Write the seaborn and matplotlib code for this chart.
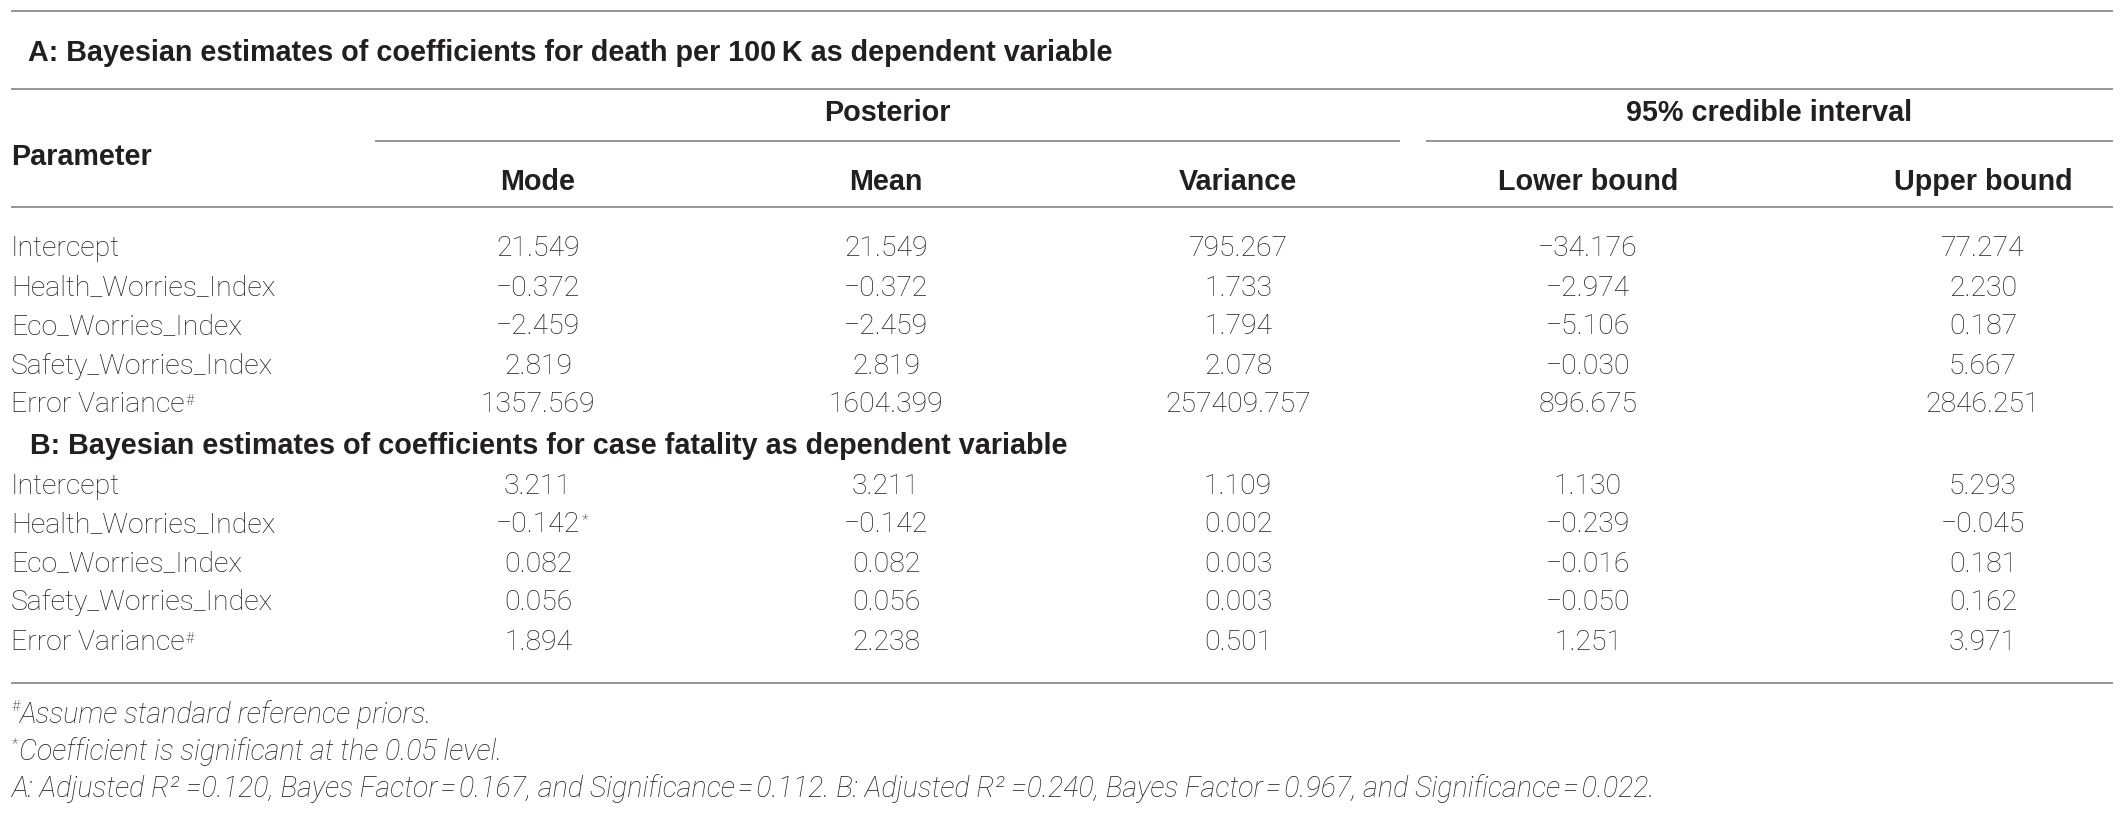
import matplotlib.pyplot as plt
import seaborn as sns

# ---------------------------
# Table content
# ---------------------------
title_a = "A: Bayesian estimates of coefficients for death per 100\u2009K as dependent variable"
title_b = "B: Bayesian estimates of coefficients for case fatality as dependent variable"

params = ["Intercept", "Health_Worries_Index", "Eco_Worries_Index",
          "Safety_Worries_Index", "Error Variance"]
param_marks = ["", "", "", "", "#"]
col_labels = ["Mode", "Mean", "Variance", "Lower bound", "Upper bound"]

# panel A: death per 100K
a_mode = ["21.549", "\u22120.372", "\u22122.459", "2.819", "1357.569"]
a_mean = ["21.549", "\u22120.372", "\u22122.459", "2.819", "1604.399"]
a_var = ["795.267", "1.733", "1.794", "2.078", "257409.757"]
a_low = ["\u221234.176", "\u22122.974", "\u22125.106", "\u22120.030", "896.675"]
a_up = ["77.274", "2.230", "0.187", "5.667", "2846.251"]

# panel B: case fatality
b_mode = ["3.211", "\u22120.142", "0.082", "0.056", "1.894"]
b_mean = ["3.211", "\u22120.142", "0.082", "0.056", "2.238"]
b_var = ["1.109", "0.002", "0.003", "0.003", "0.501"]
b_low = ["1.130", "\u22120.239", "\u22120.016", "\u22120.050", "1.251"]
b_up = ["5.293", "\u22120.045", "0.181", "0.162", "3.971"]
b_mode_marks = ["", "*", "", "", ""]

footnotes = [
    ("#", "Assume standard reference priors."),
    ("*", "Coefficient is significant at the 0.05 level."),
    ("", "A: Adjusted R\u00b2 =0.120, Bayes Factor\u200a=\u200a0.167, and Significance\u200a=\u200a0.112. "
         "B: Adjusted R\u00b2 =0.240, Bayes Factor\u200a=\u200a0.967, and Significance\u200a=\u200a0.022."),
]

# ---------------------------
# Layout (pixel units)
# ---------------------------
W, H = 2121, 815
left, right = 11, 2113
col_x = [538, 886, 1238, 1588, 1983]
rows_a = [248, 288, 327, 366, 405]
rows_b = [486, 525, 564, 603, 643]
ink = "#231f20"
rule = "#8e8e8e"

sns.set_theme(style="white")
plt.rcParams["font.family"] = ["Roboto", "DejaVu Sans"]

fig = plt.figure(figsize=(W / 100, H / 100), dpi=100)
ax = fig.add_axes([0, 0, 1, 1])
ax.set_xlim(0, W)
ax.set_ylim(H, 0)
ax.set_axis_off()

body = dict(fontsize=20.4, color=ink, fontweight="light", va="center")
bold = dict(fontsize=20.7, color=ink, fontweight="bold", va="center",
            family=["Liberation Sans", "DejaVu Sans"])


def sup(artist, s, size=11, italic=False):
    ax.annotate(s, xy=(1, 0.92), xycoords=artist, xytext=(1, 0),
                textcoords="offset points", ha="left", va="top",
                fontsize=size, color=ink, fontweight="light",
                style="italic" if italic else "normal")


# rules
for y in [11, 89, 207, 683]:
    ax.hlines(y, left, right, color=rule, lw=1.3)
ax.hlines(141, 375, 1400, color=rule, lw=1.3)
ax.hlines(141, 1426, right, color=rule, lw=1.3)

# headers
ax.text(28, 53, title_a, ha="left", **bold)
ax.text((375 + 1400) / 2, 113, "Posterior", ha="center", **bold)
ax.text((1426 + right) / 2, 113, "95% credible interval", ha="center", **bold)
ax.text(left, 157, "Parameter", ha="left", **bold)
for x, lab in zip(col_x, col_labels):
    ax.text(x, 182, lab, ha="center", **bold)

# panel A rows
for i, y in enumerate(rows_a):
    t = ax.text(left, y, params[i], ha="left", **body)
    if param_marks[i]:
        sup(t, param_marks[i])
    for x, col in zip(col_x, [a_mode, a_mean, a_var, a_low, a_up]):
        ax.text(x, y, col[i], ha="center", **body)

# panel B
ax.text(30, 446, title_b, ha="left", **bold)
for i, y in enumerate(rows_b):
    t = ax.text(left, y, params[i], ha="left", **body)
    if param_marks[i]:
        sup(t, param_marks[i])
    for j, (x, col) in enumerate(zip(col_x, [b_mode, b_mean, b_var, b_low, b_up])):
        c = ax.text(x, y, col[i], ha="center", **body)
        if j == 0 and b_mode_marks[i]:
            sup(c, b_mode_marks[i])

# footnotes
foot_y = [715, 752, 789]
foot = dict(ha="left", va="center", fontsize=20.6, color=ink,
            fontweight="light", style="italic")
for (mark, txt), y in zip(footnotes, foot_y):
    if mark:
        ax.text(left + 1, y - 8, mark, ha="left", va="center", fontsize=11,
                color=ink, fontweight="light")
        ax.text(left + 8, y, txt, **foot)
    else:
        ax.text(left, y, txt, **foot)

fig.savefig("out.png", dpi=100, facecolor="white")
